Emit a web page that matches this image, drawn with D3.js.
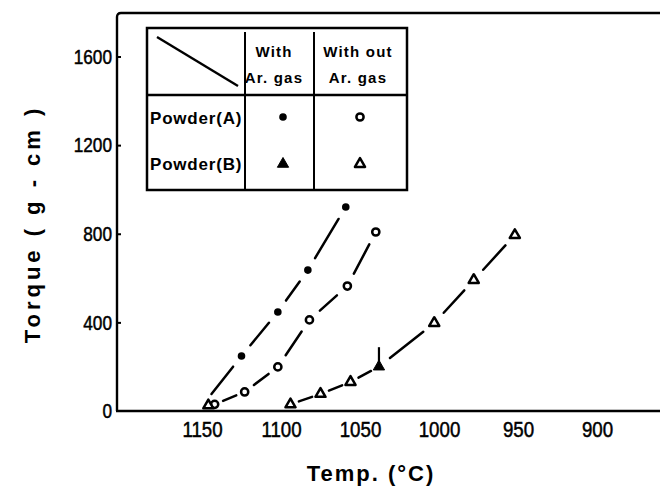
<!DOCTYPE html>
<html>
<head>
<meta charset="utf-8">
<script src="https://cdn.jsdelivr.net/npm/d3@7"></script>
<style>
  html, body { margin: 0; padding: 0; background: #fff; }
  svg { display: block; font-family: "Liberation Sans", Arial, sans-serif; }
</style>
</head>
<body>
<svg id="chart" width="660" height="488"></svg>
<script>
// Axis ticks
const xTicks = [1150, 1100, 1050, 1000, 950, 900];
const xTickLabels = ["1150", "1100", "1050", "1000", "950", "900"];
const yTicks = [0, 400, 800, 1200, 1600];
const yTickLabels = ["0", "400", "800", "1200", "1600"];

// Powder (A), with Ar gas (filled circles)
const aArTemp = [1125, 1102, 1083, 1059];
const aArTorque = [248, 447, 636, 921];
const aArLineStart = [1144, 77];          // where the fitted curve begins (no marker)

// Powder (A), without Ar gas (open circles)
const aNoArTemp = [1142, 1123, 1102, 1082, 1058, 1040];
const aNoArTorque = [30, 86, 199, 411, 564, 808];

// Powder (B), without Ar gas (open triangles)
const bNoArTemp = [1146, 1094, 1075, 1056, 1003, 978, 952];
const bNoArTorque = [25, 30, 77, 131, 397, 591, 794];

// Powder (B), with Ar gas (filled triangle, with its upper scatter bound)
const bArTemp = [1038];
const bArTorque = [200];
const bArUpper = [288];
const bCurveFrom = 1100;                  // Powder (B) curve joins points at or below this temperature

// Legend table
const legendCols = [["With", "Ar. gas"], ["With out", "Ar. gas"]];
const legendRows = ["Powder(A)", "Powder(B)"];

const svg = d3.select("#chart");
const plotLeft = 117, plotTop = 13, plotRight = 662, plotBottom = 411;

const x = d3.scaleLinear().domain([1150, 900]).range([202, 597]);
const y = d3.scaleLinear().domain([0, 1600]).range([plotBottom, 56.5]);

// Frame: left axis, bottom axis and top border
svg.append("path")
  .attr("d", `M${plotLeft},${plotBottom} V${plotTop + 4} Q${plotLeft},${plotTop} ${plotLeft + 4},${plotTop} H${plotRight}`)
  .attr("fill", "none").attr("stroke", "#000").attr("stroke-width", 2.4);
svg.append("line")
  .attr("x1", plotLeft - 1).attr("x2", plotRight).attr("y1", plotBottom).attr("y2", plotBottom)
  .attr("stroke", "#000").attr("stroke-width", 2.6);

// Bottom axis labels
const gx = svg.append("g").attr("transform", `translate(0,${plotBottom})`)
  .call(d3.axisBottom(x).tickValues(xTicks).tickSize(0).tickPadding(10)
    .tickFormat((d, i) => xTickLabels[i]));
gx.select(".domain").remove();
gx.selectAll("text")
  .attr("font-size", 22).attr("font-family", "Liberation Sans, Arial, sans-serif")
  .attr("fill", "#000").attr("stroke", "#000").attr("stroke-width", 0.5)
  .attr("transform", "scale(0.85,1)");

// Left axis with short inward ticks
const gy = svg.append("g").attr("transform", `translate(${plotLeft},0)`)
  .call(d3.axisLeft(y).tickValues(yTicks).tickSizeInner(-4).tickSizeOuter(0).tickPadding(5)
    .tickFormat((d, i) => yTickLabels[i]));
gy.select(".domain").remove();
gy.selectAll(".tick line").attr("stroke", "#000").attr("stroke-width", 2);
gy.selectAll(".tick").filter(d => d === 0).select("line").remove();
gy.selectAll("text")
  .attr("font-size", 21).attr("font-family", "Liberation Sans, Arial, sans-serif")
  .attr("fill", "#000").attr("stroke", "#000").attr("stroke-width", 0.5)
  .attr("x", -5 / 0.82)
  .attr("transform", "scale(0.82,1)");

// Axis titles
svg.append("text")
  .attr("x", 371).attr("y", 481)
  .attr("text-anchor", "middle")
  .attr("font-size", 22).attr("font-weight", "bold")
  .attr("letter-spacing", 2)
  .style("white-space", "pre")
  .text("Temp. (°C)");

svg.append("text")
  .attr("transform", "translate(40,224) rotate(-90)")
  .attr("text-anchor", "middle")
  .attr("font-size", 22).attr("font-weight", "bold")
  .attr("letter-spacing", 4)
  .style("white-space", "pre")
  .text("Torque ( g - cm )");

// Dashed curve: one dash between neighbouring points, broken around markers
const curves = svg.append("g")
  .attr("stroke", "#000").attr("stroke-width", 2.5).attr("stroke-linecap", "round");

function drawCurve(pts) {
  const p = pts.map(d => ({ px: x(d.t), py: y(d.v), mark: d.mark }))
    .sort((a, b) => a.px - b.px);
  for (let i = 0; i < p.length - 1; i++) {
    const a = p[i], b = p[i + 1];
    const dx = b.px - a.px, dy = b.py - a.py;
    const len = Math.hypot(dx, dy);
    const ux = dx / len, uy = dy / len;
    const gap = Math.min(14, len * 0.28);
    const ga = a.mark ? gap : 0, gb = b.mark ? gap : 0;
    curves.append("line")
      .attr("x1", a.px + ux * ga).attr("y1", a.py + uy * ga)
      .attr("x2", b.px - ux * gb).attr("y2", b.py - uy * gb);
  }
}

const zip = (ts, vs) => ts.map((t, i) => ({ t, v: vs[i], mark: true }));

drawCurve([{ t: aArLineStart[0], v: aArLineStart[1], mark: false }, ...zip(aArTemp, aArTorque)]);
drawCurve(zip(aNoArTemp, aNoArTorque));
drawCurve([...zip(bNoArTemp, bNoArTorque), ...zip(bArTemp, bArTorque)]
  .filter(d => d.t <= bCurveFrom));

// Markers
const tri = d3.symbol().type(d3.symbolTriangle);
const marks = svg.append("g");

function filledCircle(g, cx, cy) {
  g.append("circle").attr("cx", cx).attr("cy", cy).attr("r", 3.8).attr("fill", "#000");
}
function openCircle(g, cx, cy) {
  g.append("circle").attr("cx", cx).attr("cy", cy).attr("r", 3.6)
    .attr("fill", "#fff").attr("stroke", "#000").attr("stroke-width", 2.5);
}
function openTriangle(g, cx, cy) {
  g.append("path").attr("d", tri.size(44)()).attr("transform", `translate(${cx},${cy})`)
    .attr("fill", "#fff").attr("stroke", "#000").attr("stroke-width", 2.5)
    .attr("stroke-linejoin", "round");
}
function filledTriangle(g, cx, cy) {
  g.append("path").attr("d", tri.size(55)()).attr("transform", `translate(${cx},${cy})`)
    .attr("fill", "#000").attr("stroke", "#000").attr("stroke-width", 1);
}

aArTemp.forEach((t, i) => filledCircle(marks, x(t), y(aArTorque[i])));
aNoArTemp.forEach((t, i) => openCircle(marks, x(t), y(aNoArTorque[i])));
bNoArTemp.forEach((t, i) => openTriangle(marks, x(t), y(bNoArTorque[i])));
bArTemp.forEach((t, i) => {
  marks.append("line")
    .attr("x1", x(t)).attr("x2", x(t)).attr("y1", y(bArUpper[i])).attr("y2", y(bArTorque[i]))
    .attr("stroke", "#000").attr("stroke-width", 2.2);
  filledTriangle(marks, x(t), y(bArTorque[i]));
});

// Legend table
const lg = svg.append("g");
const L = { x0: 147, y0: 28, x1: 407, y1: 190, hy: 95, c1: 245, c2: 314 };
lg.append("rect")
  .attr("x", L.x0).attr("y", L.y0).attr("width", L.x1 - L.x0).attr("height", L.y1 - L.y0)
  .attr("fill", "#fff").attr("stroke", "#000").attr("stroke-width", 2.5);
lg.append("line").attr("x1", L.x0).attr("x2", L.x1).attr("y1", L.hy).attr("y2", L.hy)
  .attr("stroke", "#000").attr("stroke-width", 2.5);
[L.c1, L.c2].forEach(cx => lg.append("line")
  .attr("x1", cx).attr("x2", cx).attr("y1", L.y0 + 4).attr("y2", L.y1)
  .attr("stroke", "#000").attr("stroke-width", 2));
lg.append("line").attr("x1", 157).attr("y1", 37).attr("x2", 238).attr("y2", 86)
  .attr("stroke", "#000").attr("stroke-width", 2.4);

const colCenters = [274, 358];
legendCols.forEach((lines, ci) => {
  lines.forEach((s, li) => {
    lg.append("text")
      .attr("x", colCenters[ci]).attr("y", li === 0 ? 57 : 83)
      .attr("text-anchor", "middle")
      .attr("font-size", 15).attr("font-weight", "bold")
      .attr("letter-spacing", 1.2)
      .text(s);
  });
});

const rowBaselines = [124, 170];
const rowCenters = [117, 164];
legendRows.forEach((s, ri) => {
  lg.append("text")
    .attr("x", 150).attr("y", rowBaselines[ri])
    .attr("font-size", 17).attr("font-weight", "bold")
    .attr("letter-spacing", 0.8)
    .text(s);
});
filledCircle(lg, 283, rowCenters[0]);
openCircle(lg, 360, rowCenters[0]);
filledTriangle(lg, 283, rowCenters[1]);
openTriangle(lg, 360, rowCenters[1]);
</script>
</body>
</html>
